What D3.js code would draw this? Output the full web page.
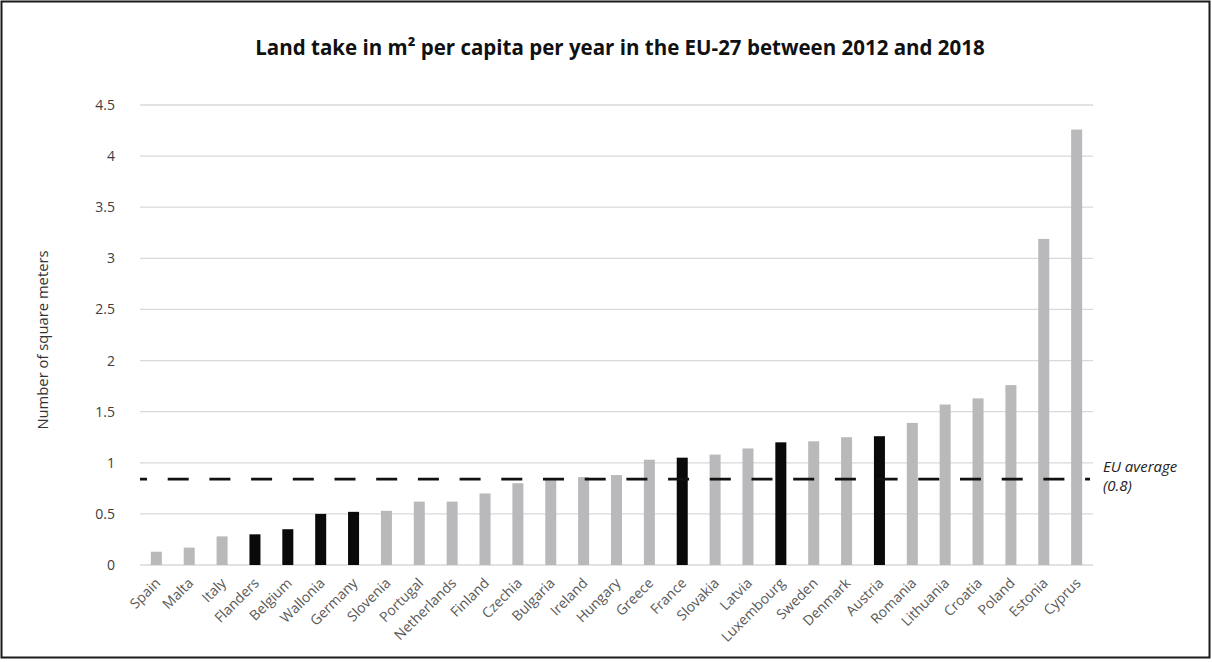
<!DOCTYPE html>
<html>
<head>
<meta charset="utf-8">
<script src="https://cdn.jsdelivr.net/npm/d3@7"></script>
<style>
  body { margin: 0; background: #fff; }
  svg { display: block; }
</style>
</head>
<body>
<svg id="chart" width="1212" height="662"></svg>
<script>
var countries = ["Spain", "Malta", "Italy", "Flanders", "Belgium", "Wallonia", "Germany",
  "Slovenia", "Portugal", "Netherlands", "Finland", "Czechia", "Bulgaria", "Ireland",
  "Hungary", "Greece", "France", "Slovakia", "Latvia", "Luxembourg", "Sweden", "Denmark",
  "Austria", "Romania", "Lithuania", "Croatia", "Poland", "Estonia", "Cyprus"];
var landTake = [0.13, 0.17, 0.28, 0.30, 0.35, 0.50, 0.52, 0.53, 0.62, 0.62, 0.70, 0.80,
  0.84, 0.86, 0.88, 1.03, 1.05, 1.08, 1.14, 1.20, 1.21, 1.25, 1.26, 1.39, 1.57, 1.63,
  1.76, 3.19, 4.26];
// countries drawn in black
var highlighted = ["Flanders", "Belgium", "Wallonia", "Germany", "France", "Luxembourg", "Austria"];
var yTicks = [0, 0.5, 1, 1.5, 2, 2.5, 3, 3.5, 4, 4.5];
var euAverage = 0.84;

var svg = d3.select("#chart"),
  margin = {left: 140, right: 119, top: 105, bottom: 97},
  width = +svg.attr("width") - margin.left - margin.right,
  height = +svg.attr("height") - margin.top - margin.bottom;

// outer frame
svg.append("rect")
  .attr("x", 1.5).attr("y", 1.5)
  .attr("width", 1208).attr("height", 656)
  .attr("fill", "none").attr("stroke", "#1a1a1a").attr("stroke-width", 2);

svg.append("text")
  .attr("x", 620).attr("y", 55)
  .attr("text-anchor", "middle")
  .style("font-family", "Open Sans")
  .style("font-weight", "bold")
  .style("font-size", "20.5px")
  .attr("fill", "#111")
  .text("Land take in m² per capita per year in the EU-27 between 2012 and 2018");

var g = svg.append("g").attr("transform", "translate(" + margin.left + "," + margin.top + ")");

var x = d3.scaleBand().domain(countries).range([0, width]).paddingInner(0.665).paddingOuter(0.33);
var y = d3.scaleLinear().domain([0, 4.5]).range([height, 0]);

// gridlines
g.selectAll(".grid").data(yTicks).enter().append("line")
  .attr("class", "grid")
  .attr("x1", 0).attr("x2", width)
  .attr("y1", function(d) { return y(d); })
  .attr("y2", function(d) { return y(d); })
  .attr("stroke", "#d9d9d9").attr("stroke-width", 1.3);

var yAxis = g.append("g")
  .call(d3.axisLeft(y).tickValues(yTicks).tickSize(0).tickPadding(25).tickFormat(d3.format("")));
yAxis.select(".domain").remove();
yAxis.selectAll("text")
  .style("font-family", "Open Sans").style("font-size", "14px").attr("fill", "#404040");

// bars
g.selectAll(".bar").data(countries).enter().append("rect")
  .attr("class", "bar")
  .attr("x", function(d) { return x(d); })
  .attr("width", x.bandwidth())
  .attr("y", function(d, i) { return y(landTake[i]); })
  .attr("height", function(d, i) { return height - y(landTake[i]); })
  .attr("fill", function(d) { return highlighted.indexOf(d) >= 0 ? "#0a0a0a" : "#b9b9bc"; });

// EU average dashed line
g.append("line")
  .attr("x1", 0).attr("x2", width - 3)
  .attr("y1", y(euAverage)).attr("y2", y(euAverage))
  .attr("stroke", "#111").attr("stroke-width", 2.6)
  .attr("stroke-dasharray", "21,20.7").attr("stroke-dashoffset", 14);

var xAxis = g.append("g")
  .attr("transform", "translate(0," + height + ")")
  .call(d3.axisBottom(x).tickSize(0).tickPadding(0));
xAxis.select(".domain").remove();
xAxis.selectAll("text")
  .style("font-family", "Open Sans").style("font-size", "14px").attr("fill", "#595959")
  .attr("text-anchor", "end")
  .attr("dy", null)
  .attr("transform", "translate(5,19) rotate(-45)");

// EU average label, two lines
svg.append("text")
  .attr("x", 1103).attr("y", 472)
  .style("font-family", "Open Sans").style("font-style", "italic").style("font-size", "15px")
  .attr("fill", "#222")
  .text("EU average");
svg.append("text")
  .attr("x", 1103).attr("y", 491)
  .style("font-family", "Open Sans").style("font-style", "italic").style("font-size", "15px")
  .attr("fill", "#222")
  .text("(0.8)");

svg.append("text")
  .attr("transform", "translate(48,340) rotate(-90)")
  .attr("text-anchor", "middle")
  .style("font-family", "Open Sans").style("font-size", "14.8px")
  .attr("fill", "#333")
  .text("Number of square meters");
</script>
</body>
</html>
